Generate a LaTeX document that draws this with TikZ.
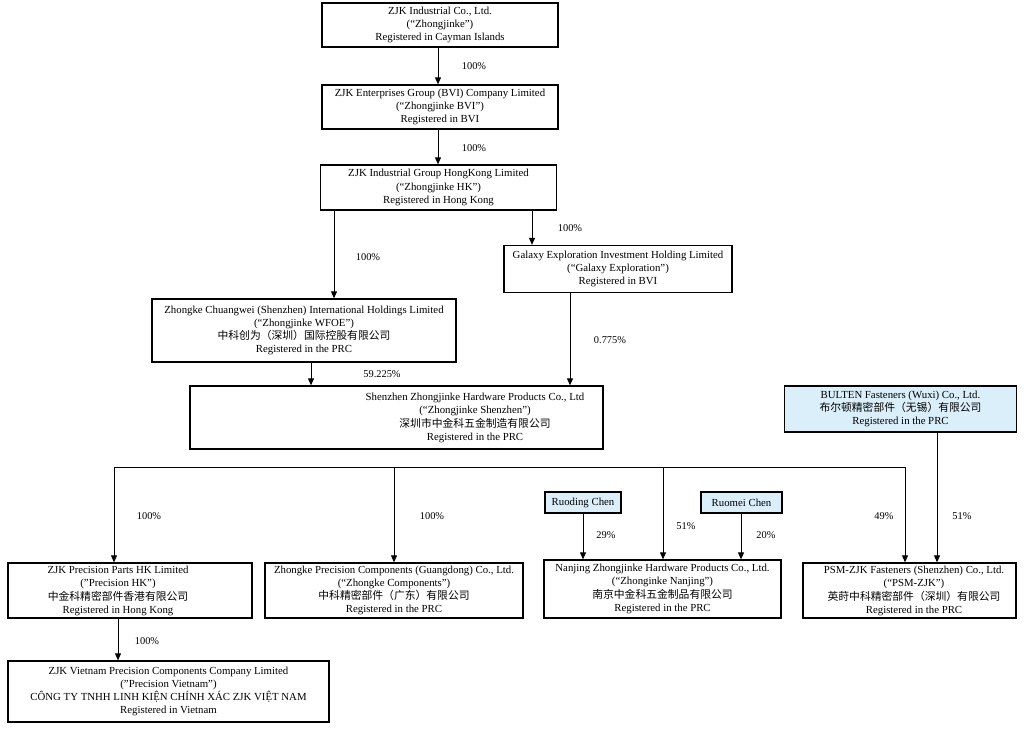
\documentclass[tikz,border=0pt]{standalone}
\usepackage{fontspec}
\setmainfont{Liberation Serif}
\newfontfamily\cjk{Noto Sans CJK SC}
\usetikzlibrary{arrows.meta}
\definecolor{lblue}{RGB}{218,239,250}
\begin{document}
\begin{tikzpicture}[x=1pt,y=-1pt,
  box/.style={draw=black,line width=1.3pt,inner sep=0pt,align=center,font=\fontsize{10.8}{13.2}\selectfont},
  bluebox/.style={box,fill=lblue},
  txt/.style={inner sep=0pt,align=center,font=\fontsize{10.8}{13.2}\selectfont},
  pct/.style={inner sep=0pt,font=\fontsize{10.4}{12}\selectfont},
  arr/.style={line width=0.9pt,-{Triangle[length=7pt,width=6pt]}},
  ln/.style={line width=0.9pt}]
\useasboundingbox (0,0) rectangle (1024,730);
\fill[white] (0,0) rectangle (1024,730);

% entity boxes
\node[box,minimum width=236pt,minimum height=44pt] (zjk) at (440,25) {ZJK Industrial Co., Ltd.\\(“Zhongjinke”)\\Registered in Cayman Islands};
\node[box,minimum width=236pt,minimum height=44pt] (bvi) at (440,107) {ZJK Enterprises Group (BVI) Company Limited\\(“Zhongjinke BVI”)\\Registered in BVI};
\node[box,minimum width=236pt,minimum height=45pt] (hk) at (438.5,187.5) {ZJK Industrial Group HongKong Limited\\(“Zhongjinke HK”)\\Registered in Hong Kong};
\node[box,minimum width=228pt,minimum height=47pt] (galaxy) at (618,269) {Galaxy Exploration Investment Holding Limited\\(“Galaxy Exploration”)\\Registered in BVI};
\node[box,minimum width=304pt,minimum height=63pt] (wfoe) at (304,330.5) {Zhongke Chuangwei (Shenzhen) International Holdings Limited\\(“Zhongjinke WFOE”)\\{\cjk 中科创为（深圳）国际控股有限公司}\\Registered in the PRC};
\node[box,minimum width=413pt,minimum height=63pt] (sz) at (396.5,417.5) {};
\node[txt] (sztxt) at (475,418) {Shenzhen Zhongjinke Hardware Products Co., Ltd\\(“Zhongjinke Shenzhen”)\\{\cjk 深圳市中金科五金制造有限公司}\\Registered in the PRC};
\node[bluebox,minimum width=232pt,minimum height=46pt] (bulten) at (900.5,409) {BULTEN Fasteners (Wuxi) Co., Ltd.\\{\cjk 布尔顿精密部件（无锡）有限公司}\\Registered in the PRC};
\node[bluebox,minimum width=76pt,minimum height=21pt] (ruoding) at (583,502.5) {Ruoding Chen};
\node[bluebox,minimum width=81pt,minimum height=21pt] (ruomei) at (741.5,502.5) {Ruomei Chen};
\node[box,minimum width=244pt,minimum height=55pt] (phk) at (130,590.5) {};
\node[txt] (phktxt) at (118,591) {ZJK Precision Parts HK Limited\\("Precision HK")\\{\cjk 中金科精密部件香港有限公司}\\Registered in Hong Kong};
\node[box,minimum width=258pt,minimum height=55pt] (comp) at (394,590.5) {Zhongke Precision Components (Guangdong) Co., Ltd.\\(“Zhongke Components”)\\{\cjk 中科精密部件（广东）有限公司}\\Registered in the PRC};
\node[box,minimum width=237pt,minimum height=58pt] (nanjing) at (662.5,589) {Nanjing Zhongjinke Hardware Products Co., Ltd.\\(“Zhonginke Nanjing”)\\{\cjk 南京中金科五金制品有限公司}\\Registered in the PRC};
\node[box,minimum width=213pt,minimum height=55pt] (psm) at (909.5,590.5) {};
\node[txt] (psmtxt) at (914,591) {PSM-ZJK Fasteners (Shenzhen) Co., Ltd.\\(“PSM-ZJK”)\\{\cjk 英莳中科精密部件（深圳）有限公司}\\Registered in the PRC};
\node[box,minimum width=321pt,minimum height=61pt] (vn) at (168.5,691.5) {ZJK Vietnam Precision Components Company Limited\\("Precision Vietnam")\\CÔNG TY TNHH LINH KIỆN CHÍNH XÁC ZJK VIỆT NAM\\Registered in Vietnam};

% column coordinates
\coordinate (c438) at (438,0);
\coordinate (c532) at (532,0);
\coordinate (c334) at (334,0);
\coordinate (c311) at (311,0);
\coordinate (c570) at (570,0);
\coordinate (c583) at (583,0);
\coordinate (c741) at (741,0);
\coordinate (c937) at (937,0);
\coordinate (c118) at (118,0);
\coordinate (hl) at (114,467);
\coordinate (hr) at (905,467);
\coordinate (c394) at (394,0);
\coordinate (c663) at (663,0);

% connectors
\draw[arr] (zjk.south -| c438) -- (bvi.north -| c438);
\draw[arr] (bvi.south -| c438) -- (hk.north -| c438);
\draw[arr] (hk.south -| c532) -- (galaxy.north -| c532);
\draw[arr] (hk.south -| c334) -- (wfoe.north -| c334);
\draw[arr] (wfoe.south -| c311) -- (sz.north -| c311);
\draw[arr] (galaxy.south -| c570) -- (sz.north -| c570);
\draw[ln] (hl) -- (hr);
\draw[arr] (hl) -- (phk.north -| hl);
\draw[arr] (hl -| c394) -- (comp.north -| c394);
\draw[arr] (hl -| c663) -- (nanjing.north -| c663);
\draw[arr] (hr) -- (psm.north -| hr);
\draw[arr] (ruoding.south -| c583) -- (nanjing.north -| c583);
\draw[arr] (ruomei.south -| c741) -- (nanjing.north -| c741);
\draw[arr] (bulten.south -| c937) -- (psm.north -| c937);
\draw[arr] (phk.south -| c118) -- (vn.north -| c118);

% percentages
\node[pct] (p1) at (474,66) {100\%};
\node[pct] (p2) at (474,148) {100\%};
\node[pct] (p3) at (570,228) {100\%};
\node[pct] (p4) at (368,257) {100\%};
\node[pct] (p5) at (382,374) {59.225\%};
\node[pct] (p6) at (610,340) {0.775\%};
\node[pct] (p7) at (149,516) {100\%};
\node[pct] (p8) at (432,516) {100\%};
\node[pct] (p9) at (606,535) {29\%};
\node[pct] (p10) at (686,526) {51\%};
\node[pct] (p11) at (766,535) {20\%};
\node[pct] (p12) at (884,516) {49\%};
\node[pct] (p13) at (962,516) {51\%};
\node[pct] (p14) at (147,641) {100\%};
\end{tikzpicture}
\end{document}
